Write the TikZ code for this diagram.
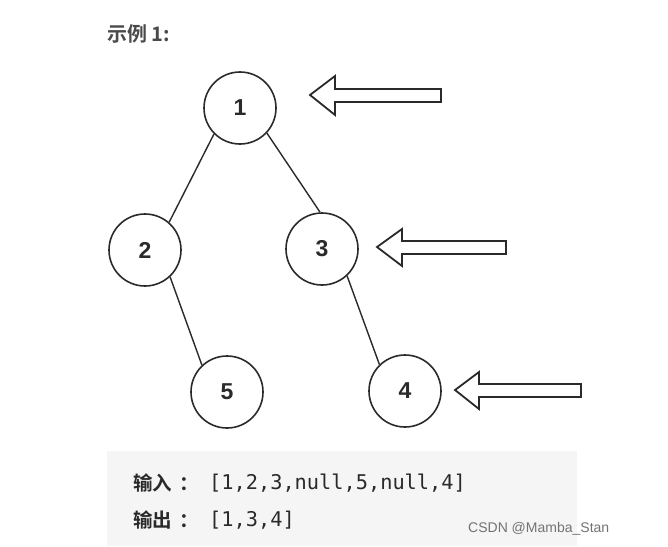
\documentclass[tikz,border=0pt]{standalone}
\usepackage{fontspec}
\setmainfont{Liberation Sans}
\newfontfamily\cjkbold[BoldFont={* Bold}]{Noto Sans CJK SC}
\newfontfamily\codefont{DejaVu Sans Mono}
\definecolor{boxgray}{HTML}{F5F5F5}
\definecolor{inkc}{HTML}{2A2A2A}
\begin{document}
\begin{tikzpicture}[x=1pt,y=-1pt,
  treenode/.style={circle,draw=inkc,line width=1.6pt,minimum size=72pt,inner sep=0pt,font=\bfseries\fontsize{23}{23}\selectfont,text=inkc},
  edge/.style={draw=inkc,line width=1.4pt},
  hollowarrow/.style={draw=inkc,line width=1.8pt,fill=white,line join=miter},
  cjklabel/.style={anchor=west,inner sep=0pt,text=inkc,font=\cjkbold\bfseries\fontsize{19.5}{19.5}\selectfont},
  codetext/.style={anchor=west,inner sep=0pt,text=inkc,font=\codefont\fontsize{20.3}{20.3}\selectfont}]
\useasboundingbox (0,0) rectangle (668,546);
\fill[white] (0,0) rectangle (668,546);
\node[anchor=west,inner sep=0pt,font=\cjkbold\bfseries\fontsize{20}{20}\selectfont,text=inkc!85] (title) at (107,34) {示例 1:};
\node[treenode] (n1) at (240,108) {1};
\node[treenode] (n2) at (145,250) {2};
\node[treenode] (n3) at (322,249) {3};
\node[treenode] (n5) at (227,392) {5};
\node[treenode] (n4) at (405,391) {4};
\draw[edge] (n1.225) -- (n2.49);
\draw[edge] (n1.317) -- (n3.93);
\draw[edge] (n2.313) -- (n5.133);
\draw[edge] (n3.313) -- (n4.134);
% hollow arrows
\draw[hollowarrow] (310,95) -- (335,76) -- (335,89) -- (441,89) -- (441,102) -- (335,102) -- (335,115) -- cycle;
\draw[hollowarrow] (377,247) -- (402,229) -- (402,241) -- (506,241) -- (506,254) -- (402,254) -- (402,266) -- cycle;
\draw[hollowarrow] (455,390) -- (479,372) -- (479,384) -- (581,384) -- (581,397) -- (479,397) -- (479,409) -- cycle;
% code box
\fill[boxgray] (107,451) rectangle (577,546);
\node[cjklabel] (inlabel) at (133,483) {输入\hspace{7pt}：};
\node[codetext] (incode) at (209,483) {[1,2,3,null,5,null,4]};
\node[cjklabel] (outlabel) at (133,520) {输出\hspace{7pt}：};
\node[codetext] (outcode) at (209,520) {[1,3,4]};
\node[anchor=west,inner sep=0pt,text=black!55,font=\fontsize{14}{14}\selectfont] (wm) at (468,529) {CSDN @Mamba\_Stan};
\end{tikzpicture}
\end{document}
